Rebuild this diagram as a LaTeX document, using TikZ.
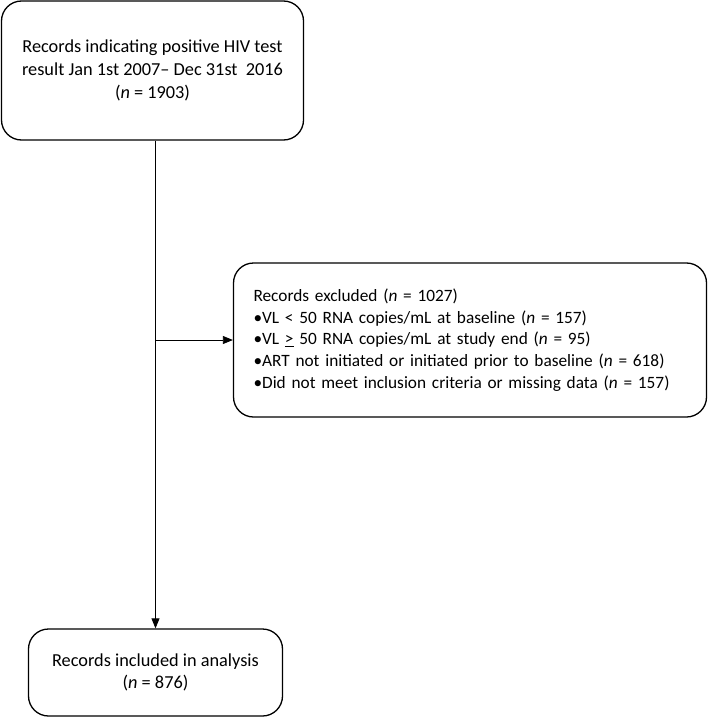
\documentclass[tikz,border=0pt]{standalone}
\usepackage{fontspec}
\setmainfont{Carlito}
\usetikzlibrary{arrows.meta}
\definecolor{flowcolor0000}{RGB}{255,255,255}
\definecolor{flowcolor0001}{RGB}{0,0,0}
\begin{document}
\begin{tikzpicture}[yscale=-1
,fstyle0/.style={draw=flowcolor0001,fill=flowcolor0000,line width=1.3pt,rounded corners=20pt,inner sep=0pt,font=\fontsize{18.3pt}{22.8pt}\selectfont}
,fstyle1/.style={color=flowcolor0001,line width=0.8pt}
,fstyle2/.style={fstyle1,-{Triangle[length=10pt,width=8pt]}}
]
\useasboundingbox[fill=flowcolor0000] (0pt,0pt) rectangle (709pt,717pt);
\node[fstyle0,minimum width=302pt,minimum height=139pt,align=center] (records) at (152.5pt,70.5pt)
  {Records indicating positive HIV test\\ result Jan 1st 2007-- Dec 31st\ \ 2016\\ (\textit{n} = 1903)};
\node[fstyle0,minimum width=473pt,minimum height=154pt,align=left,text width=433pt,inner xsep=20pt,font=\fontsize{17.3pt}{21.8pt}\selectfont] (excluded) at (470pt,340pt)
  {Records excluded (\textit{n} = 1027)\\
   \textbullet VL < 50 RNA copies/mL at baseline (\textit{n} = 157)\\
   \textbullet VL \underline{>} 50 RNA copies/mL at study end (\textit{n} = 95)\\
   \textbullet ART not initiated or initiated prior to baseline (\textit{n} = 618)\\
   \textbullet Did not meet inclusion criteria or missing data (\textit{n} = 157)};
\node[fstyle0,minimum width=254pt,minimum height=87pt,align=center] (included) at (155.5pt,672.5pt)
  {Records included in analysis\\ (\textit{n} = 876)};
\draw[fstyle2] (included.north |- records.south) -- (included.north);
\draw[fstyle2] (included.north |- excluded.west) -- (excluded.west);
\end{tikzpicture}
\end{document}
